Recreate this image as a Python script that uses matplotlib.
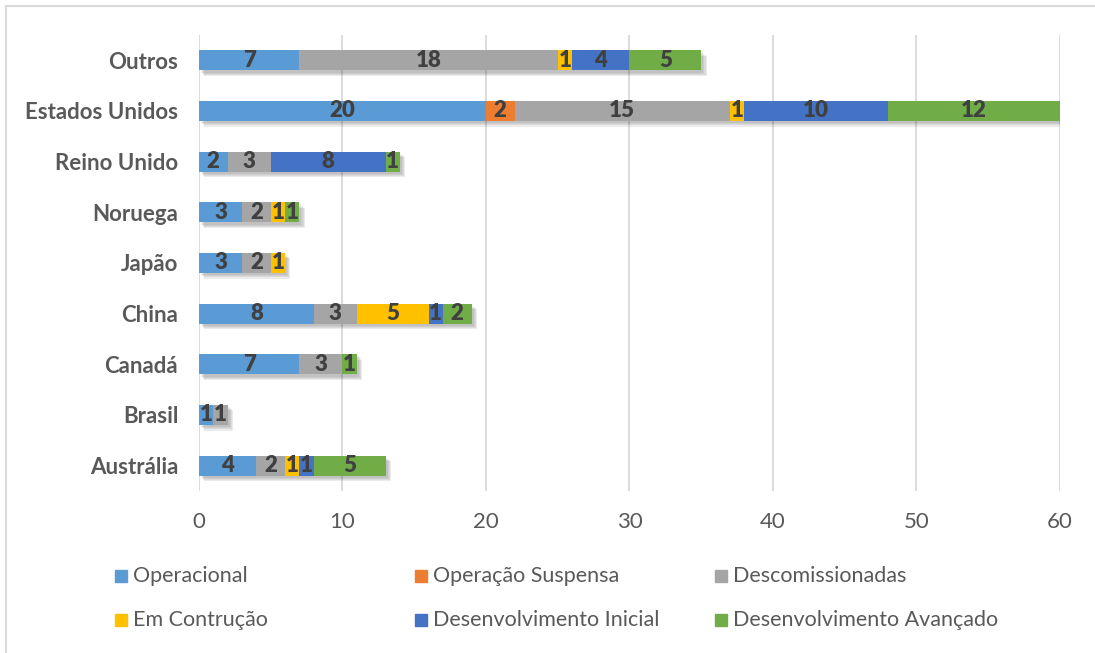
import numpy as np
import matplotlib.pyplot as plt
from matplotlib.patches import Rectangle
import matplotlib.transforms as mtransforms

plt.rcParams['font.family'] = ['Lato', 'DejaVu Sans']

# categories bottom -> top
countries = ['Austrália', 'Brasil', 'Canadá', 'China', 'Japão', 'Noruega',
             'Reino Unido', 'Estados Unidos', 'Outros']
series = ['Operacional', 'Operação Suspensa', 'Descomissionadas',
          'Em Contrução', 'Desenvolvimento Inicial', 'Desenvolvimento Avançado']
colors = ['#5B9BD5', '#ED7D31', '#A5A5A5', '#FFC000', '#4472C4', '#70AD47']

operacional = [4, 1, 7, 8, 3, 3, 2, 20, 7]
suspensa    = [0, 0, 0, 0, 0, 0, 0, 2, 0]
descom      = [2, 1, 3, 3, 2, 2, 3, 15, 18]
construcao  = [1, 0, 0, 5, 1, 1, 0, 1, 1]
dev_inicial = [1, 0, 0, 1, 0, 0, 8, 10, 4]
dev_avanc   = [5, 0, 1, 2, 0, 1, 1, 12, 5]

values = np.array([operacional, suspensa, descom, construcao, dev_inicial, dev_avanc])
totals = values.sum(axis=0)

fig = plt.figure(figsize=(10.95, 6.53), dpi=100)
ax = fig.add_axes([0.1817, 0.2481, 0.7863, 0.6983])
y = np.arange(len(countries))
h = 0.4

# soft shadow behind each stacked bar
for k, a in enumerate([0.05, 0.06, 0.07, 0.08]):
    off = mtransforms.offset_copy(ax.transData, fig=fig, x=1.5 + k * 0.8,
                                  y=-(1.5 + k * 0.8), units='points')
    ax.barh(y, totals, height=h, color='black', alpha=a, transform=off,
            zorder=1, linewidth=0)

left = np.zeros(len(countries))
for i, name in enumerate(series):
    ax.barh(y, values[i], left=left, height=h, color=colors[i], zorder=2,
            linewidth=0)
    for j in range(len(countries)):
        if values[i][j] > 0:
            ax.text(left[j] + values[i][j] / 2, y[j], str(values[i][j]),
                    ha='center', va='center', fontsize=16, fontweight='heavy',
                    color='#404040', zorder=3)
    left = left + values[i]

ax.set_xlim(0, 60)
ax.set_ylim(-0.5, len(countries) - 0.5)
ax.set_xticks(np.arange(0, 61, 10))
ax.set_yticks(y)
ax.set_yticklabels(countries, fontsize=16, fontweight='bold', color='#595959')
ax.tick_params(axis='x', labelsize=16, labelcolor='#595959', length=0, pad=15)
ax.tick_params(axis='y', length=0, pad=15)
ax.grid(axis='x', color='#D9D9D9', linewidth=1.3, zorder=0)
ax.set_axisbelow(True)
for s in ax.spines.values():
    s.set_visible(False)

# legend laid out in Excel style: 3 evenly spaced columns, 2 rows
W, H = 1095.0, 653.0
col_x = [115, 415, 715]
row_y = [576, 620]
for i, name in enumerate(series):
    cx = col_x[i % 3]
    cy = row_y[i // 3]
    fig.patches.append(Rectangle((cx / W, 1 - (cy + 6) / H), 12 / W, 12 / H,
                                 transform=fig.transFigure, color=colors[i]))
    fig.text((cx + 18) / W, 1 - cy / H, name, fontsize=15.5, color='#595959',
             ha='left', va='center')

# chart border
fig.patches.append(Rectangle((6 / W, -0.05), 1.1, 1 - 6 / H + 0.05,
                             transform=fig.transFigure, fill=False,
                             edgecolor='#D9D9D9', linewidth=1.5))

fig.savefig('out.png', dpi=100)
